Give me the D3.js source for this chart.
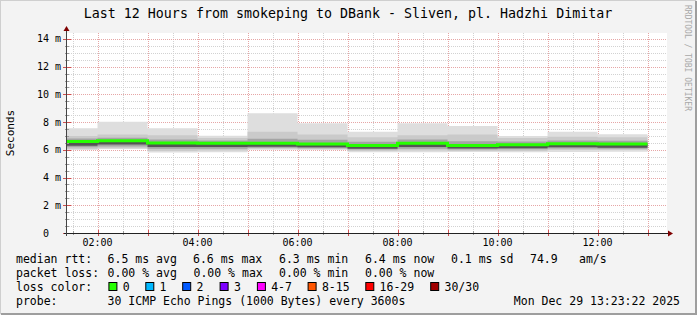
<!DOCTYPE html>
<html>
<head>
<meta charset="utf-8">
<script src="https://cdn.jsdelivr.net/npm/d3@7"></script>
<style>
  body { margin: 0; background: #f3f3f3; }
  svg text { font-family: 'DejaVu Sans Mono', monospace; white-space: pre; fill: #000; }
</style>
</head>
<body>
<svg id="chart" width="697" height="315"></svg>
<script>
// hourly buckets (hour of day the bucket starts), values in ms
const hours = [1, 2, 3, 4, 5, 6, 7, 8, 9, 10, 11, 12];
const median = [6.60, 6.65, 6.50, 6.48, 6.48, 6.42, 6.31, 6.48, 6.31, 6.37, 6.44, 6.42];
const pingMin = [6.00, 6.06, 5.80, 5.82, 6.00, 6.00, 5.82, 5.82, 5.85, 5.82, 5.85, 5.87];
const pingP10 = [6.05, 6.12, 5.92, 5.95, 6.08, 6.05, 5.92, 5.95, 5.92, 5.92, 5.98, 5.98];
const pingP25 = [6.18, 6.25, 6.08, 6.08, 6.15, 6.12, 6.02, 6.08, 6.02, 6.05, 6.10, 6.08];
const pingP40 = [6.30, 6.38, 6.20, 6.20, 6.22, 6.18, 6.08, 6.20, 6.10, 6.12, 6.18, 6.15];
const pingP60 = [6.62, 6.68, 6.52, 6.50, 6.52, 6.45, 6.35, 6.52, 6.35, 6.40, 6.46, 6.45];
const pingP75 = [6.82, 6.88, 6.75, 6.68, 6.80, 6.72, 6.58, 6.75, 6.62, 6.60, 6.68, 6.65];
const pingP90 = [7.00, 7.10, 7.05, 6.85, 7.30, 7.10, 6.90, 7.05, 7.10, 6.85, 6.95, 6.90];
const pingMax = [7.55, 8.03, 7.55, 7.02, 8.64, 7.92, 7.31, 7.92, 7.72, 7.00, 7.31, 7.12];

const yTicks = [0, 2, 4, 6, 8, 10, 12, 14];
const yTickLabels = ['0  ', '2 m', '4 m', '6 m', '8 m', '10 m', '12 m', '14 m'];
const xTickHours = [2, 4, 6, 8, 10, 12];

const lossLabels = ['0', '1', '2', '3', '4-7', '8-15', '16-29', '30/30'];
const lossColors = ['#26ff00', '#00b8ff', '#0059ff', '#7e00ff', '#ff00ff', '#ff5500', '#ff0000', '#a10000'];

const title = 'Last 12 Hours from smokeping to DBank - Sliven, pl. Hadzhi Dimitar';
const stampText = 'Mon Dec 29 13:23:22 2025';

const parse = d3.timeParse('%Y-%m-%d %H:%M:%S');
const start = parse('2025-12-29 01:23:22');
const end = parse('2025-12-29 13:23:22');
const at = h => parse('2025-12-29 ' + String(h).padStart(2, '0') + ':00:00');

const pLeft = 67, pRight = 667, pTop = 33, pBottom = 233;
const svg = d3.select('#chart');

// frame
svg.append('rect').attr('width', 697).attr('height', 315).attr('fill', '#f3f3f3');
svg.append('path').attr('d', 'M0,314 V0 H696').attr('fill', 'none').attr('stroke', '#cfcfcf').attr('stroke-width', 2);
svg.append('path').attr('d', 'M1,314 H696 V1').attr('fill', 'none').attr('stroke', '#9e9e9e').attr('stroke-width', 2);

const x = d3.scaleTime().domain([start, end]).range([pLeft, pRight]);
const y = d3.scaleLinear().domain([0, 14.43]).range([pBottom, pTop]);

svg.append('rect')
  .attr('x', pLeft).attr('y', pTop)
  .attr('width', pRight - pLeft).attr('height', pBottom - pTop)
  .attr('fill', '#fff');

svg.append('clipPath').attr('id', 'plot')
  .append('rect')
  .attr('x', pLeft).attr('y', pTop)
  .attr('width', pRight - pLeft).attr('height', pBottom - pTop);

// grid
const grid = svg.append('g').attr('fill', 'none').attr('stroke-dasharray', '1,1');
const minorY = d3.range(0.5, 14.5, 0.5).filter(v => v % 2 !== 0);
const minorX = x.ticks(d3.timeMinute.every(30)).filter(t => t.getMinutes() === 30);
const majorX = x.ticks(d3.timeHour.every(1));

grid.selectAll('.gy').data(minorY).enter().append('line')
  .attr('x1', pLeft).attr('x2', pRight)
  .attr('y1', d => Math.round(y(d)) + 0.5).attr('y2', d => Math.round(y(d)) + 0.5)
  .attr('stroke', '#d2d2d2');
grid.selectAll('.gx').data(minorX).enter().append('line')
  .attr('y1', pTop).attr('y2', pBottom)
  .attr('x1', d => Math.round(x(d)) + 0.5).attr('x2', d => Math.round(x(d)) + 0.5)
  .attr('stroke', '#d2d2d2');
grid.selectAll('.my').data(yTicks.slice(1)).enter().append('line')
  .attr('x1', pLeft).attr('x2', pRight)
  .attr('y1', d => Math.round(y(d)) + 0.5).attr('y2', d => Math.round(y(d)) + 0.5)
  .attr('stroke', '#e6a6a6');
grid.selectAll('.mx').data(majorX).enter().append('line')
  .attr('y1', pTop).attr('y2', pBottom)
  .attr('x1', d => Math.round(x(d)) + 0.5).attr('x2', d => Math.round(x(d)) + 0.5)
  .attr('stroke', '#e6a6a6');

// smoke
const pts = hours.map((h, i) => ({ t: at(h), i: i }));
pts.push({ t: at(13), i: hours.length - 1 });

const layers = [
  { lo: pingMin, hi: pingMax, color: '#dedede' },
  { lo: pingP10, hi: pingP90, color: '#cacaca' },
  { lo: pingP25, hi: pingP75, color: '#a4a4a4' },
  { lo: pingP40, hi: pingP60, color: '#545454' }
];

const smoke = svg.append('g').attr('clip-path', 'url(#plot)');
layers.forEach(function (l) {
  const area = d3.area()
    .curve(d3.curveStepAfter)
    .x(d => x(d.t))
    .y0(d => y(l.lo[d.i]))
    .y1(d => y(l.hi[d.i]));
  smoke.append('path').attr('d', area(pts)).attr('fill', l.color);
});

const line = d3.line()
  .curve(d3.curveStepAfter)
  .x(d => x(d.t))
  .y(d => y(median[d.i]));
smoke.append('path')
  .attr('d', line(pts))
  .attr('fill', 'none')
  .attr('stroke', lossColors[0])
  .attr('stroke-width', 3);

// axes
const ax = svg.append('g');
ax.selectAll('.ty').data(d3.range(0, 14.5, 0.5)).enter().append('line')
  .attr('x1', d => d % 2 === 0 ? 63 : 65).attr('x2', d => d % 2 === 0 ? 71 : 69)
  .attr('y1', d => Math.round(y(d)) + 0.5).attr('y2', d => Math.round(y(d)) + 0.5)
  .attr('stroke', d => d % 2 === 0 ? '#d05050' : '#999');
ax.selectAll('.tx').data(x.ticks(d3.timeMinute.every(30))).enter().append('line')
  .attr('y1', d => d.getMinutes() === 0 ? 230 : 231).attr('y2', d => d.getMinutes() === 0 ? 236 : 235)
  .attr('x1', d => Math.round(x(d)) + 0.5).attr('x2', d => Math.round(x(d)) + 0.5)
  .attr('stroke', d => d.getMinutes() === 0 ? '#d05050' : '#999');

ax.append('line').attr('x1', 64).attr('x2', 670).attr('y1', pBottom + 0.5).attr('y2', pBottom + 0.5).attr('stroke', '#222');
ax.append('line').attr('x1', pLeft - 0.5).attr('x2', pLeft - 0.5).attr('y1', 236).attr('y2', 29).attr('stroke', '#444');
ax.append('path').attr('d', 'M668,230.5 L673,233.5 L668,236.5 Z').attr('fill', '#7f0000');
ax.append('path').attr('d', 'M63.5,31 L66.5,26 L69.5,31 Z').attr('fill', '#7f0000');

ax.selectAll('.yl').data(yTicks).enter().append('text')
  .attr('x', 61).attr('y', d => y(d) + 3.5)
  .attr('text-anchor', 'end').attr('font-size', 10)
  .text((d, i) => yTickLabels[i]);

ax.selectAll('.xl').data(xTickHours).enter().append('text')
  .attr('x', d => x(at(d))).attr('y', 246)
  .attr('text-anchor', 'middle').attr('font-size', 10)
  .text(d => d3.timeFormat('%H:%M')(at(d)));

svg.append('text')
  .attr('transform', 'translate(14,133) rotate(-90)')
  .attr('text-anchor', 'middle').attr('font-size', 11)
  .text('Seconds');

svg.append('text')
  .attr('x', 348).attr('y', 18)
  .attr('text-anchor', 'middle').attr('font-size', 13.3)
  .text(title);

svg.append('text')
  .attr('transform', 'translate(685,5) rotate(90)')
  .attr('font-size', 8).style('fill', '#a8a8a8')
  .text('RRDTOOL / TOBI OETIKER');

// legend
const lg = svg.append('g').attr('font-size', 11.5);
const rows = [
  { y: 263, items: [[16, 'median rtt:'], [107.6, '6.5 ms avg'], [193, '6.6 ms max'], [279, '6.3 ms min'], [365, '6.4 ms now'], [451, '0.1 ms sd'], [530, '74.9'], [579, 'am/s']] },
  { y: 277, items: [[16, 'packet loss:'], [107.6, '0.00 % avg'], [193.5, '0.00 % max'], [279, '0.00 % min'], [365, '0.00 % now']] },
  { y: 291, items: [[16, 'loss color:']] },
  { y: 305, items: [[16, 'probe:'], [107.6, '30 ICMP Echo Pings (1000 Bytes) every 3600s']] }
];
rows.forEach(function (r) {
  r.items.forEach(function (it) {
    lg.append('text').attr('x', it[0]).attr('y', r.y).text(it[1]);
  });
});
lg.append('text').attr('x', 680).attr('y', 305).attr('text-anchor', 'end').text(stampText);

const swatchX = [108.4, 145.3, 182.2, 219.6, 256.9, 307.6, 365.3, 430.2];
lossLabels.forEach(function (lab, i) {
  lg.append('rect')
    .attr('x', swatchX[i] + 0.5).attr('y', 282.5)
    .attr('width', 8).attr('height', 8)
    .attr('fill', lossColors[i]).attr('stroke', '#000').attr('stroke-width', 1);
  lg.append('text').attr('x', swatchX[i] + 14.3).attr('y', 291).text(lab);
});
</script>
</body>
</html>
